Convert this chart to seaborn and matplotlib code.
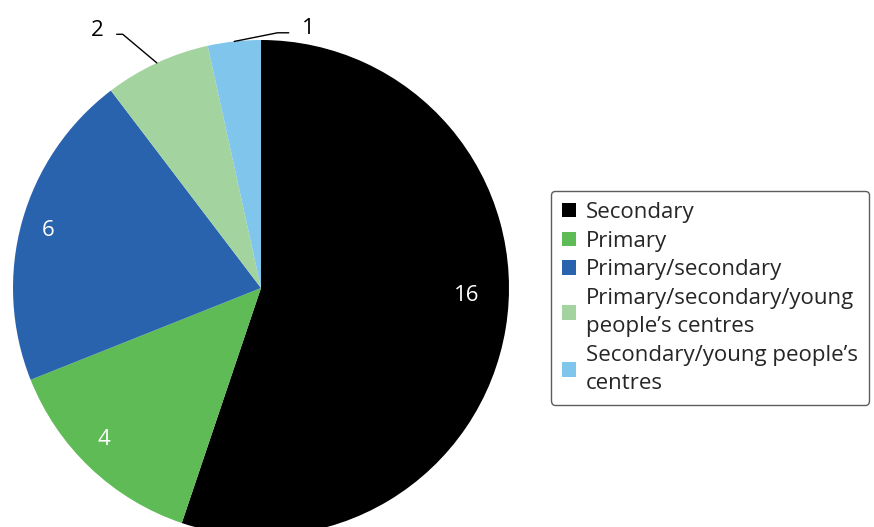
import numpy as np
import seaborn as sns
import matplotlib.pyplot as plt

sns.set_theme(style="white")
plt.rcParams['font.family'] = ['Open Sans', 'DejaVu Sans']

categories = ["Secondary", "Primary", "Primary/secondary",
              "Primary/secondary/young\npeople\u2019s centres",
              "Secondary/young people\u2019s\ncentres"]
counts = [16, 4, 6, 2, 1]
colors = ["#000000", "#5fbb55", "#2a63ad", "#a3d49f", "#80c6ec"]

fig = plt.figure(figsize=(8.74, 5.27), dpi=100)
# square axes so the pie fills the left part, clipped at the bottom like the original
ax = fig.add_axes([13 / 874, -9 / 527, 496 / 874, 496 / 527])
wedges, _ = ax.pie(counts, colors=colors, startangle=90, counterclock=False,
                   radius=1, wedgeprops=dict(linewidth=0))
ax.set_xlim(-1, 1)
ax.set_ylim(-1, 1)
ax.set_aspect("equal")
ax.axis("off")

# inside labels (white)
inner = {0: (0.83, -2), 1: (0.88, -136), 2: (0.89, 165)}
for i, (r, ang) in inner.items():
    a = np.deg2rad(ang)
    ax.text(r * np.cos(a), r * np.sin(a), str(counts[i]), color="white",
            fontsize=16, ha="center", va="center")

# outside labels with leader lines
outer = {3: ((-0.66, 1.04), (1, 0.3), 140, 7), 4: ((0.19, 1.046), (0, 0.3), 11.3, 7)}
for i, (txt_xy, rel, angB, shr) in outer.items():
    w = wedges[i]
    mid = np.deg2rad((w.theta1 + w.theta2) / 2)
    ax.annotate(str(counts[i]), xy=(np.cos(mid), np.sin(mid)), xytext=txt_xy,
                fontsize=16, color="black", ha="center", va="center",
                annotation_clip=False,
                arrowprops=dict(arrowstyle="-", color="black", lw=1,
                                relpos=rel, shrinkA=shr, shrinkB=0,
                                connectionstyle=f"angle,angleA=0,angleB={angB},rad=0"))

leg = fig.legend(wedges, categories, loc="upper left",
                 bbox_to_anchor=(551 / 874, 1 - 191 / 527),
                 frameon=True, fancybox=True, fontsize=16,
                 handlelength=0.62, handleheight=0.62, handletextpad=0.45,
                 labelspacing=0.34, borderpad=0.5, borderaxespad=0)
for t in leg.get_texts():
    t.set_linespacing(1.45)
leg.get_frame().set_edgecolor("#333333")
leg.get_frame().set_linewidth(1)

fig.savefig("out.png", dpi=100)
